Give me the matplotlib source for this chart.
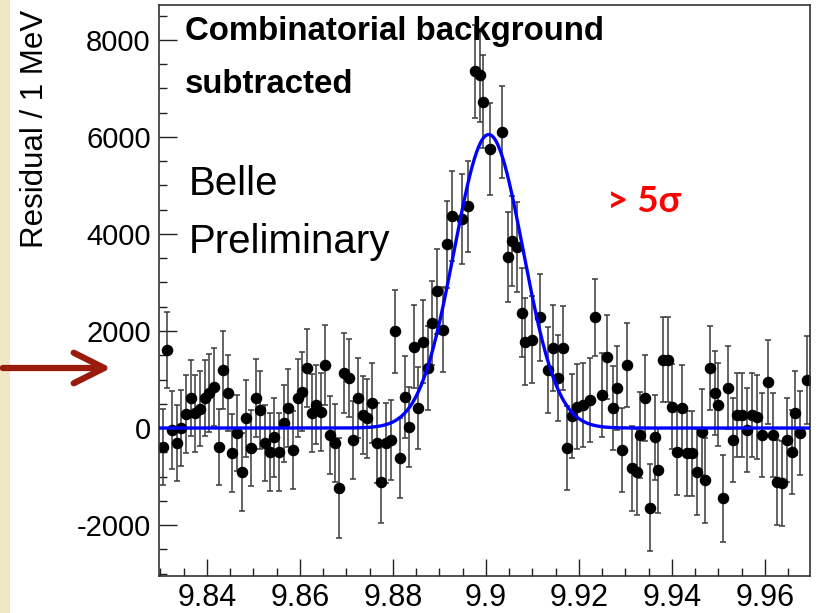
import numpy as np
import matplotlib
matplotlib.use("Agg")
import matplotlib.pyplot as plt
from matplotlib.ticker import MultipleLocator, FuncFormatter
from matplotlib.patches import Rectangle, FancyArrowPatch

plt.rcParams['font.family'] = ['Liberation Sans', 'DejaVu Sans']

# left side: 1 MeV bins starting at 9.8305 GeV
mass_left = np.round(9.8305 + 0.001 * np.arange(60), 4)
resid_left = [-390, 1610, -40, -310, 0, 290, 620, 300, 400, 620,
              720, 850, -390, 1200, 720, -520, -100, -910, 200, -410,
              620, 370, -310, -500, -190, -500, 100, 410, -450, 620,
              750, 1240, 310, 480, 330, 1300, -140, -310, -1240, 1140,
              1030, -250, 620, 270, 200, 520, -310, -1120, -310, -250,
              1990, -620, 640, 20, 1680, 410, 1780, 1240, 2170, 2820]
err_left = [790, 780, 800, 790, 780, 800, 790, 800, 780, 790,
            800, 810, 790, 800, 790, 800, 790, 810, 800, 790,
            800, 810, 790, 800, 810, 800, 790, 800, 810, 800,
            820, 810, 800, 810, 800, 820, 810, 800, 1030, 820,
            810, 800, 820, 810, 820, 830, 820, 840, 830, 820,
            850, 830, 840, 830, 860, 850, 860, 870, 870, 880]

# peak and right side
mass_right = [9.8908, 9.8916, 9.8927, 9.8948, 9.8961, 9.8976, 9.8987, 9.8994, 9.9009, 9.9034,
              9.9047, 9.9056, 9.9067, 9.9077, 9.9084, 9.9099, 9.9116, 9.9133, 9.9144, 9.9155,
              9.9166, 9.9174, 9.9185, 9.9196, 9.9209, 9.9224, 9.9234, 9.9249, 9.9260, 9.9273,
              9.9282, 9.9292, 9.9303, 9.9314, 9.9325, 9.9331, 9.9342, 9.9353, 9.9363, 9.9370,
              9.9381, 9.9391, 9.9400, 9.9411, 9.9422, 9.9432, 9.9443, 9.9454, 9.9465, 9.9471,
              9.9482, 9.9492, 9.9499, 9.9510, 9.9520, 9.9531, 9.9540, 9.9551, 9.9561, 9.9572,
              9.9583, 9.9594, 9.9606, 9.9617, 9.9626, 9.9637, 9.9647, 9.9658, 9.9665, 9.9675,
              9.9690]
resid_right = [2030, 3790, 4370, 4310, 4570, 7350, 7270, 6730, 5750, 6100,
               3520, 3850, 3730, 2380, 1780, 1820, 2280, 1200, 1650, 1030,
               1650, -410, 250, 440, 480, 580, 2280, 680, 1470, 410,
               830, -450, 1300, -830, -910, -140, 620, -1640, -190, -870,
               1410, 1410, 440, -500, 410, -520, -520, -910, -80, -1080,
               1240, 720, 480, -1450, 830, -250, 270, 270, -40, 270,
               230, -140, 950, -140, -1120, -1140, -250, -500, 310, -100,
               990]
err_right = [880, 900, 920, 930, 940, 960, 960, 950, 950, 950,
             930, 930, 920, 910, 900, 900, 890, 880, 880, 880,
             870, 870, 870, 870, 870, 870, 790, 870, 870, 870,
             870, 870, 870, 880, 880, 880, 880, 900, 880, 880,
             880, 880, 880, 880, 880, 880, 880, 880, 880, 880,
             860, 860, 860, 890, 860, 870, 870, 870, 870, 870,
             870, 870, 860, 870, 870, 870, 870, 870, 870, 870,
             900]

mass = np.concatenate([mass_left, mass_right])
resid = np.array(resid_left + resid_right)
err = np.array(err_left + err_right)

# gaussian fit
fit_mean = 9.9006
fit_sigma = 0.0074
fit_amp = 6050

fig = plt.figure(figsize=(8.19, 6.13), dpi=100)
fig.patch.set_facecolor('white')
fig.add_artist(Rectangle((0, 0), 10 / 819, 1, transform=fig.transFigure,
                         facecolor='#F1E7C6', edgecolor='none', zorder=0))

ax = fig.add_axes([159 / 819, 1 - 576 / 613, 651 / 819, 571 / 613])
ax.errorbar(mass, resid, yerr=err, fmt='o', color='black', markersize=7.3,
            ecolor='#3a3a3a', elinewidth=1.1, capsize=2.5, capthick=1.1, zorder=2)

xf = np.linspace(9.8297, 9.9697, 600)
ax.plot(xf, fit_amp * np.exp(-0.5 * ((xf - fit_mean) / fit_sigma) ** 2),
        color='#0000FF', lw=2.4, zorder=3)

ax.set_xlim(9.8297, 9.9697)
ax.set_ylim(-3050, 8720)
ax.xaxis.set_major_locator(MultipleLocator(0.02))
ax.xaxis.set_minor_locator(MultipleLocator(0.005))
ax.yaxis.set_major_locator(MultipleLocator(2000))
ax.yaxis.set_minor_locator(MultipleLocator(500))
ax.xaxis.set_major_formatter(FuncFormatter(lambda v, p: '%g' % round(v, 3)))
ax.yaxis.set_major_formatter(FuncFormatter(lambda v, p: '%g' % v))
ax.tick_params(which='both', direction='in', top=False, right=False, width=1, color='#222')
ax.tick_params(axis='y', which='major', length=13, labelsize=21, pad=6)
ax.tick_params(axis='x', which='major', length=12, labelsize=22, pad=5)
ax.tick_params(which='minor', length=6)
for s in ax.spines.values():
    s.set_linewidth(1.2)
    s.set_color('#333')

fig.text(35 / 819, 1 - 10 / 613, 'Residual / 1 MeV', rotation=90, ha='center', va='top', fontsize=22.5)

fig.text(185 / 819, 1 - 40 / 613, 'Combinatorial background', fontsize=23.8, fontweight='bold', va='baseline')
fig.text(185 / 819, 1 - 93 / 613, 'subtracted', fontsize=23.8, fontweight='bold', va='baseline')
fig.text(189 / 819, 1 - 195 / 613, 'Belle', fontsize=29, va='baseline')
fig.text(189 / 819, 1 - 253 / 613, 'Preliminary', fontsize=29, va='baseline')
fig.text(607 / 819, 1 - 212 / 613, '> 5σ', fontsize=26.5, fontweight='bold', color='#FF0000',
         va='baseline', family=['Lato', 'DejaVu Sans'])

arrow = FancyArrowPatch((0, 1 - 368 / 613), (114 / 819, 1 - 368 / 613), transform=fig.transFigure,
                        arrowstyle='->,head_length=1.1,head_width=0.55', mutation_scale=20,
                        color='#9A1B0C', lw=4.5)
fig.add_artist(arrow)

fig.savefig('out.png', dpi=100)
